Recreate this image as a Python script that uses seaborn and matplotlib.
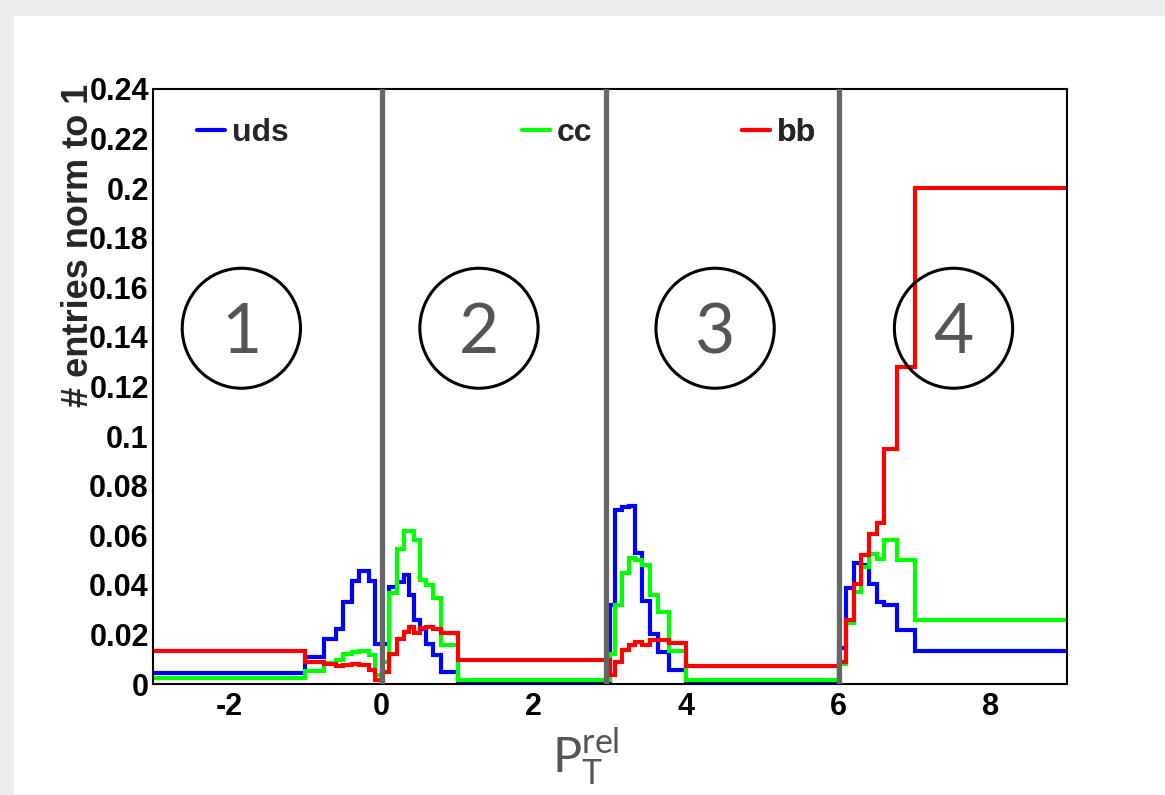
import numpy as np
import pandas as pd
import matplotlib
matplotlib.use("Agg")
import matplotlib.pyplot as plt
import seaborn as sns
from matplotlib.patches import Ellipse, Rectangle
from matplotlib.ticker import MultipleLocator, FuncFormatter

# ---------------- data ----------------
bin_edges = [-3.0, -1.0, -0.76, -0.6, -0.5, -0.39, -0.3, -0.17, -0.08, 0.0,
             0.1, 0.2, 0.29, 0.36, 0.43, 0.5, 0.58, 0.67, 0.78, 1.0, 3.0,
             3.07, 3.16, 3.25, 3.33, 3.42, 3.52, 3.63, 3.77, 4.0, 6.0,
             6.1, 6.2, 6.3, 6.4, 6.5, 6.6, 6.77, 7.0, 9.0]

uds = [0.0043, 0.011, 0.018, 0.022, 0.033, 0.0415, 0.0456, 0.0415, 0.016,
       0.016, 0.039, 0.041, 0.044, 0.036, 0.026, 0.022, 0.016, 0.0115, 0.0048, 0.0006,
       0.032, 0.070, 0.0715, 0.072, 0.053, 0.0335, 0.020, 0.0128, 0.0056, 0.0008,
       0.0145, 0.0388, 0.049, 0.048, 0.0405, 0.033, 0.0318, 0.0218, 0.0134]

cc = [0.0023, 0.0052, 0.0085, 0.0095, 0.012, 0.013, 0.0135, 0.0115, 0.0035,
      0.009, 0.0366, 0.0545, 0.0618, 0.0618, 0.058, 0.042, 0.040, 0.0345, 0.0158, 0.0016,
      0.012, 0.032, 0.0446, 0.051, 0.050, 0.048, 0.036, 0.029, 0.0135, 0.0017,
      0.008, 0.0245, 0.037, 0.047, 0.0525, 0.0505, 0.058, 0.050, 0.0258]

bb = [0.0134, 0.0088, 0.0082, 0.0073, 0.0078, 0.0080, 0.0076, 0.0058, 0.0018,
      0.005, 0.012, 0.018, 0.021, 0.0228, 0.0205, 0.0225, 0.0228, 0.0222, 0.0205, 0.0098,
      0.0036, 0.009, 0.0137, 0.0157, 0.017, 0.0157, 0.0177, 0.0177, 0.0165, 0.0073,
      0.009, 0.026, 0.0405, 0.052, 0.0605, 0.065, 0.0946, 0.128, 0.200]

series_names = ["uds", "cc", "bb"]
series_values = [uds, cc, bb]
series_colors = ["#0000ff", "#00ff00", "#ff0000"]
legend_x = [0.048, 0.404, 0.644]

region_lines = [0.0, 2.95, 6.0]
region_labels = ["1", "2", "3", "4"]
region_centers = [-1.84, 1.28, 4.38, 7.51]

# ---------------- styling ----------------
sns.set_style("white")
plt.rcParams['font.family'] = ['Liberation Sans', 'DejaVu Sans']
plt.rcParams['font.weight'] = 'bold'

W, H = 1165, 795
fig = plt.figure(figsize=(W / 100, H / 100), dpi=100)
fig.patch.set_facecolor('#ececec')
fig.add_artist(Rectangle((14 / W, 0), 1, 1 - 16 / H, transform=fig.transFigure,
                         facecolor='white', edgecolor='none', zorder=-10))

ax = fig.add_axes([153 / W, 1 - 684 / H, 914 / W, 595 / H])
ax.set_facecolor('white')

edges = np.array(bin_edges)
centers = (edges[:-1] + edges[1:]) / 2

handles = []
for name, vals, col in zip(series_names, series_values, series_colors):
    df = pd.DataFrame({"x": centers, "w": vals})
    sns.histplot(data=df, x="x", weights="w", bins=list(bin_edges), element="step",
                 fill=False, color=col, linewidth=3, ax=ax, solid_joinstyle='miter')
    handles.append(ax.get_lines()[-1])

for xv in region_lines:
    ax.axvline(xv, color='#666666', lw=3.8, zorder=3)

for cx, lab in zip(region_centers, region_labels):
    ax.add_patch(Ellipse((cx, 0.1435), width=1.553, height=0.0484, fill=False,
                         edgecolor='black', lw=2.2, zorder=4))
    ax.text(cx, 0.1335, lab, ha='center', va='baseline', fontsize=50,
            color='#555555', family='Lato', fontweight='normal', zorder=5)

ax.set_xlim(-3, 9)
ax.set_ylim(0, 0.24)
ax.set_xlabel('')
ax.set_ylabel('')
ax.xaxis.set_major_locator(MultipleLocator(2))
ax.xaxis.set_minor_locator(MultipleLocator(0.5))
ax.yaxis.set_major_locator(MultipleLocator(0.02))
ax.yaxis.set_minor_locator(MultipleLocator(0.004))
ax.yaxis.set_major_formatter(FuncFormatter(lambda v, p: '%g' % round(v, 4)))
ax.xaxis.set_major_formatter(FuncFormatter(lambda v, p: '%g' % round(v, 4)))

ax.tick_params(which='both', direction='in', top=False, right=False,
               width=1.5, color='black', labelcolor='black')
ax.tick_params(axis='x', which='major', length=13, pad=6, labelsize=22)
ax.tick_params(axis='x', which='minor', length=6.5)
ax.tick_params(axis='y', which='major', length=19, pad=3, labelsize=22)
ax.tick_params(axis='y', which='minor', length=9.5)
for sp in ax.spines.values():
    sp.set_visible(True)
    sp.set_color('black')
    sp.set_linewidth(1.5)

for h, name, xa in zip(handles, series_names, legend_x):
    leg = ax.legend([h], [name], loc='center left', bbox_to_anchor=(xa, 0.926),
                    frameon=False, borderpad=0, borderaxespad=0,
                    handlelength=0.875, handletextpad=0.22,
                    prop={'size': 23, 'weight': 'bold'})
    ax.add_artist(leg)

fig.text(79 / W, 1 - 84 / H, '# entries norm to 1', rotation=90, ha='center',
         va='top', fontsize=26, fontweight='bold')

fig.text(586 / W, 1 - 757 / H, r'$\mathregular{P_T^{rel}}$', fontsize=35,
         color='#555555', ha='center', va='center', fontweight='normal',
         family='Lato')

fig.savefig('out.png', dpi=100, facecolor=fig.get_facecolor())
